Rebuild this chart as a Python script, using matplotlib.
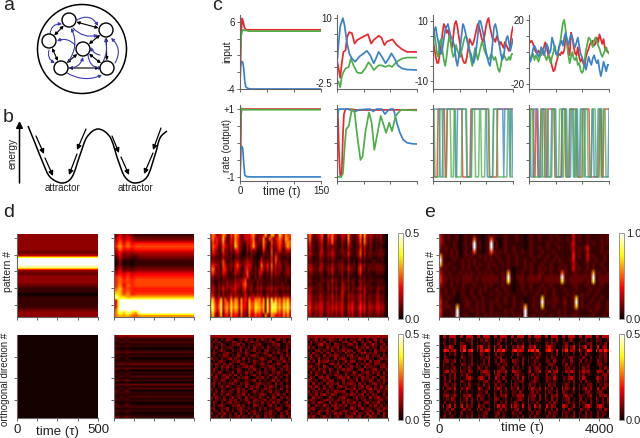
from __future__ import annotations

import matplotlib

matplotlib.use("Agg")
import matplotlib.pyplot as plt
import numpy as np
from matplotlib.patches import Circle, FancyArrowPatch, PathPatch
from matplotlib.path import Path

plt.rcParams["font.family"] = ["Liberation Sans", "DejaVu Sans"]

W, H = 640, 438
RED, GREEN, BLUE = "#e8282c", "#4dae4a", "#3a83c6"
GREY = "#666666"

# panel c, first column
c1_t = [0, 1, 2, 4, 6, 8, 10, 12, 16, 25, 150]
c1_red = [-3, 0, 4, 6.5, 6, 5.2, 4.9, 4.8, 4.8, 4.8, 4.8]
c1_green = [0, 2, 3.8, 4.6, 4.8, 4.7, 4.7, 4.7, 4.6, 4.6, 4.6]
c1_blue_t = [0, 1, 3, 5, 7, 9, 11, 14, 20, 150]
c1_blue = [-3, -0.5, 0.1, 0, -1, -3, -3.7, -3.9, -4, -4]
r1_t = [0, 1, 2, 3, 5, 150]
r1_red = [-1, -0.5, 0.8, 1, 1, 1]
r1_green = [-0.2, 0.5, 1, 1.02, 0.98, 0.98]
r1_blue_t = [0, 1, 3, 5, 7, 9, 12, 20, 150]
r1_blue = [-1, -0.2, -0.1, -0.15, -0.6, -0.95, -0.99, -1, -1]

# panel c, second column
c2_blue_t = [0, 3, 6, 11, 14, 19, 23, 28, 34, 42, 50, 56, 62, 69, 73, 78, 84, 91, 97, 102, 108, 114, 122, 131, 150]
c2_blue = [1.3, 5.1, 8.4, 10, 8.7, 5.1, 3.2, 2.2, 1.6, 2.6, 3.2, 3.7, 2.9, 1.3, 2.2, 3.5, 2.6, 1.3, 2.2, 3.2, 2.2, 0.9, 0.3, 0.1, 0]
c2_red_t = [0, 3, 6, 9, 12, 16, 19, 23, 28, 33, 38, 47, 58, 64, 69, 78, 83, 89, 94, 104, 112, 122, 131, 150]
c2_red = [1.9, 0.3, -1.5, 1.3, 3.5, 3.8, 6.4, 7.3, 7.1, 5.1, 5.8, 6.3, 6.9, 5.1, 5.8, 6.6, 6.3, 4.8, 5.5, 5.9, 4.8, 4, 3.5, 3.5]
c2_green_t = [0, 3, 6, 9, 12, 16, 22, 26, 31, 38, 46, 53, 59, 64, 69, 78, 84, 91, 97, 103, 112, 122, 131, 150]
c2_green = [-2, -2.3, -3.3, -1.3, -0.4, 0.3, 0.6, 2.2, 0.9, -0.5, -0.6, 0.3, 1.5, 0.9, 0, 0.9, 0.9, 0.6, 0.9, 0.6, 1.6, 2.2, 2.4, 2.4]
r2_blue_t = [0, 3, 6, 20, 34, 42, 62, 68, 74, 84, 90, 95, 100, 106, 112, 118, 124, 131, 140, 150]
r2_blue = [0.6, 1, 1, 1, 0.93, 0.98, 1, 0.93, 1, 1, 0.85, 0.95, 1, 1, 0.6, 0.3, 0.1, 0.01, -0.02, -0.03]
r2_red_t = [0, 2, 4, 6, 9, 11, 13, 16, 22, 38, 150]
r2_red = [1, 0.7, -0.4, -0.95, -0.9, 0.2, 0.85, 1, 1, 0.97, 0.98]
r2_green_t = [0, 3, 8, 11, 12, 14, 17, 22, 28, 33, 38, 44, 48, 53, 60, 65, 70, 76, 82, 92, 98, 103, 110, 120, 150]
r2_green = [-1, -1, -1, -0.9, -0.7, -0.2, 0.4, 0.5, 1, 0.9, 0.2, -0.5, -0.4, 0.3, 0.9, 0.6, -0.2, 0.3, 0.8, 0.3, 0.6, 0.35, 0.8, 0.98, 0.96]

# panel c, third column
c3_blue = [0, 7, 8, 5, 3, 0, -1, 1, 4, 7, 8, 9, 7, 5, 4, 3, 1, -3, -5, -2, 1, 5, 9, 8, 6, 4, 2, 0, -1, -3, -4, -2, 1, 5, 10, 10, 8, 6, 3, 0, -2, -4, -5, -2, 3, 8, 9, 7, 4, 2, -1, -3, -2, 1, 4, 5, 3, 0, 2, 4]
c3_red = [3, 1, -2, -4, -4, -1, 2, 6, 9, 8, 6, 7, 5, 3, 1, 5, 9, 10, 8, 5, 2, -1, -3, -4, -4, -2, 1, 4, 3, 2, 3, 5, 7, 9, 8, 6, 4, 3, 5, 8, 10, 11, 8, 6, 4, 4, 3, 5, 4, 2, 3, 2, 1, 3, 2, 1, 0, 2, 6, 8]
c3_green = [5, 6, 3, -1, -2, 3, 4, 0, -3, -5, -2, 2, 5, 3, 0, -2, -1, 2, 0, -1, -2, 0, 2, 4, 5, 4, 2, 0, -3, -5, -2, 1, -1, -3, -1, 1, 3, 2, 0, -1, -2, -3, -2, -1, -2, -3, -2, -4, -6, -7, -5, -2, -1, -2, -3, -3, -2, -3, -1, -1]
r3_blue = "1111111000111111111111001111111110000011111111111111100000011111111110111110110"
r3_red = "1000011111110011111111111111100000000111111111111111111000000001111111111111111"
r3_green = "11000001110000111100011000000111110000011100001100001111000011110000000000111000"

# panel c, fourth column
c4_blue = [-3, -6, -3, 2, 4, 2, -1, -3, -1, 3, 1, -2, 1, 5, 3, -1, 1, 9, 6, 2, -1, -2, 2, 5, 7, 4, 9, 12, 8, 4, 8, 11, 8, 5, 3, 6, 9, 4, -1, -3, -6, -8, -11, -7, -3, -6, -8, -4, -2, -5, -7, -5, -11, -15, -11, -6, -9, -12, -8, -8]
c4_red = [8, 6, 7, 5, 2, 0, -1, 1, -1, -2, 0, 3, 6, 3, -1, -3, -5, -9, -12, -11, -7, -4, -1, -2, 0, -1, 1, 10, 6, 2, -2, 12, 9, 3, -1, -2, 3, -3, -6, -4, -7, -9, -3, 0, 2, 5, 6, 7, 4, 5, 9, 6, 11, 8, 5, 8, 2, 1, 0, 0]
c4_green = [-1, -4, -3, -1, -5, -2, -4, -6, -3, -1, 2, 0, -3, -5, -2, -4, -7, -3, 0, 4, -1, -3, 3, 6, 12, 18, 20, 14, 5, -2, -7, -3, 0, -4, -5, -3, -8, -7, -11, -13, -12, -5, 1, 5, 9, 8, 6, 3, 7, 9, 7, 4, 2, -1, -3, -1, 1, 3, 0, -1]
r4_blue = "1100011111000011110000011111000000111110000111001100111110000000110000111100000001"
r4_red = "111110011000111100011111110000000111100001111111000000111111100000000001100111111"
r4_green = "0011100000001100011100001110000111001100011110011000011001110000111100011001110000"

# panel d, colour steps as hex digits (0 = 0, f = top of the colour bar)
d1_pattern = list("33333324fffd3233321101111233")
d2_pattern_left = [
    "252421", "363532", "474643", "585856", "696867", "485656", "363434",
    "252322", "141211", "030101", "030101", "141212", "252323", "464645",
    "675756", "686767", "686767", "695867", "7a6766", "9a6866", "ba7967",
    "ebb9aa", "5fffff", "5fffff", "5fffff", "7fffff", "8daeb9", "8a9a87",
]
d2_pattern_late = "123676432112356777667afffff95"
d3_pattern = [
    "6a8355a93285b96236558a63345c52ca36f95a88",
    "5a6744c62274a8523564793244a4297257a74b97",
    "385734a52364b85322546a5233a52183479639a9",
    "297623864253c94311437b6222941272368528b8",
    "1854128332425742104253411173118134731465",
    "2643216331313431012132200132208153322332",
    "1322124222202321123231100421217184211121",
    "3433228411314532235432112632417183412321",
    "5754318622425853246541203943729262521332",
    "7a52417732315641157431314742618252421343",
    "5843226531215432248322215521316143312343",
    "3422313321113221347311313311214132211222",
    "2311212232224334581322132221213122121211",
    "2411323242335443794231132311223122132121",
    "3531426343446431672341243422435243233232",
    "3521314222335321451232132311324132122121",
    "5722514233624432362344354422533344224443",
    "9d646c3954b5a93a574a66a9a6a2c4f6c7a5b8c6",
    "be858e48a6d8ba4a664c88cba8b3e5fcf9b7dae8",
    "cf969f59b7e9cb5b664c98dcb9b3e6fdfac8ebf9",
    "ae847e38a5d7a93a543b77caa7a2d5ecd8a6c9d7",
    "7c525b2673a5762833295586752a43a96574a6a5",
]
d4_pattern = [
    "7a5234692196a6423653a42236b4c53632425110",
    "5a3223581175a5312542a4212593a42521324110",
    "3822124611549421242184112482a42411213210",
    "1722123511423321131163112271621411212100",
    "2522114612325321242252212382512311223210",
    "3632215522436421233272212491613322233310",
    "2421114321324311122241111352312211122200",
    "1321213311213212231131120231211122111200",
    "3532214522325223342152230472412322333210",
    "2643225412436322342263320582313232333310",
    "1432213311325212241142210471212111222200",
    "1321112211213121131131110231211211111100",
    "2421212322325232142241320342312221222200",
    "1321123211414131153131320242322211131210",
    "3532223311424242254241322452522322242310",
    "2521223221314131263132321341612211331210",
    "4632325322426242362153432462513322442310",
    "4632324422425242352143432452513322442310",
    "5733436523535353462154632473614432553411",
    "6834546623546464563165733584715543664511",
    "5733435523535353462154632473614432553411",
    "4523325412424242352143522361413322332310",
]
d1_ortho = ["0", "0"]
d2_ortho_late = "63131201312012413021312041302131201312012"
d2_ortho_early = "52321312421312314213124132143213214213215"
d3_ortho = [
    "444444444444444444444444444444",
    "213021432013241203142130241302",
    "142301213413021423102134210314",
    "302142013241302123410213240132",
    "214031232014213042130421320142",
    "031242103124031241203412031240",
    "242013421032142013214203142031",
    "130214302142031342012341203142",
    "412031241320413021342013214203",
    "021342013241203142031240132412",
    "314203142013420131241302142031",
    "203142413021342420132143021342",
    "142031302142013241203124203142",
    "231420124032141302413203142013",
    "403124231403120241302142031241",
    "124023412031342013241302412031",
    "032143021420131240312024130241",
    "241302134203142013421320413021",
    "130241420132041324103142302142",
    "402132013241302413024130214031",
    "213042132041320142031241320142",
    "042131420132413021342013241302",
    "314203024132041321420314203142",
    "203124132403142043124032142013",
    "142031241320124132041324130241",
    "031342013241302043120241302134",
    "240132402134213120413021342013",
    "132041313024130241302142031241",
    "401324120314203142013241203142",
    "213042031241320314204132014203",
]
d4_ortho = [
    "444444444444444444444444444444",
    "312403124320413032142031241302",
    "041322403120134214203124031420",
    "230145132043120341302412530241",
    "413022041324032102413241320413",
    "120341320413241430241302041342",
    "304213042031204213024513240130",
    "241320413243120341302041323042",
    "032141230140342032143241202413",
    "413052341213024143021304134102",
    "120341203424130320413142043241",
    "342130420131402241320423120342",
    "213042314203241430134021341203",
    "041321403124013214203241423041",
    "320412032142304123142032104132",
    "142034241013432402314231420341",
    "431201324302140231403124203142",
    "204132041324031342041302341230",
    "341420314203423123024142031403",
    "123041420312104324132035142314",
    "402312031243241031402413204132",
    "231403421430123243124031421041",
    "014232014201342102413204134213",
    "342101342314230421302412013402",
    "123143204132041324130341324120",
    "401321420341324032141203141302",
    "234102132043120143024132023143",
    "412043241320234213401324104321",
    "031241032142413124032142413042",
    "324102413024103341240314230141",
]

# panel e, background of the pattern panel plus the bright activations
e_pattern = [
    "421211201211211012121112111211012112111212111115121121111212",
    "521211201211111012121012111211012112111211211214121121111212",
    "421112101212112012112012111111012111112112111125111121211212",
    "312112101211212012112012112111012112112111211124121251111211",
    "212121201211111012121212112112112111211121111115121141111212",
    "321121201212112121212111211211112112112112111116121151211121",
    "721112112121211121211211211211211211121121211125111141121121",
    "821211112121212112121121211211212111211211121114211121211211",
    "312112112121121112112111210111212112121211212115121121211121",
    "421211121212112121211121210112112112211211122112211212112112",
    "622121212222121222222122220222122223122222242122222222212222",
    "622121212222121222222122220122122222122222232122222122212222",
    "321121112111211121211121210112112111211211121112211121211211",
    "212112112112112121112112110112112112121121112111211112112111",
    "312112012112112111211211211111211121121121111212112121121111",
    "411211011211211211112112112111011211211122112112112111211211",
    "612111011221121211212112112112011212112122113112212112112112",
    "512211011221121211211211112112011211211121112112112121122112",
    "611121011112121211211112121112011121121111212111211112121112",
    "511112011211121121212112112121011211211211212112211111211121",
]
e_spot_col = [12, 18, 0, 24, 43, 54, 36, 48, 6, 30]
e_spot_row = [1, 1, 5, 9, 9, 9, 15, 15, 17, 17]
e_spot_steps = ["7ff7", "7ff7", "9fa", "9fc", "7fb", "9fc", "afa", "afa", "9ff", "9ff"]

e_ortho = [
    "6660666666066666606666660666666066666606666660666666066666606666660666",
    "2130214320132412031421302413021302143201324120314213024130213021432013",
    "1420214134201423012134204102340021341302102341421302410234102341302140",
    "3021420132400213240132411302402132401324012134210321302403124032140230",
    "4254034532504563042543504352404534305452503245304532503345202543504253",
    "2130314203102340142031041320213042130013241021304130210341304213013240",
    "3142002314201341021340213402130021342031420130421002134203142031203140",
    "1234024130201342013042130432104320413013204132041323104132403124042130",
    "3421030214302413023142013124301320412023142013420231403124021302034210",
    "0312034130214103420314102341204130202413420130314201341302141304103142",
    "3245043543204352035432504325305432043502354325045320435304253403254305",
    "1320314203142031021340314203120341203140203140231420031204130213021342",
    "4130213420134201342031042031402130412013204132041302134203142001342031",
    "0231403124203140213420314203140213420134203142031402130421304213042130",
    "2143024130214103204130241320241320302413021304130231420314020341302143",
    "1302314203142031420130314203032140213042130421302041320413024132041320",
    "4132013240130241320401320413013204130241320413204134201342013420134201",
    "2345035420435204532034520435403254503245043520435304523045320354204352",
    "0213042130241304132021342013420134204132041320413021340213402130421304",
    "3140213042130421302431420314031420314021304213042130241304132041320413",
    "1302403124031240312013204132041320413204132041320134201342013420134201",
    "4213041302413024130241302413021340213402130421304213042130421304213042",
    "2031402134021340213402134021304213042130421304132041320413204132041320",
    "1340230142031420314203142031402130421304213042130241302413024130241302",
]
e_ortho_dark = "00011111111111"
e_ortho_row_gain = [0.7, 0.7, 0.7, 1.2, 1.2, 0.7, 0.7, 0.8, 0.7, 0.7, 0.8, 0.8, 1.0, 0.7, 0.7, 1.0, 0.7, 0.7, 0.8, 0.7, 1.2, 0.8, 0.7, 0.7]

# panel a: node centres, panel b: energy curve (schematics, image pixels)
net_nodes = [(69, 20), (106, 30), (83, 49), (49, 41), (61, 68), (107, 68)]
net_links = [(0, 1), (0, 3), (3, 4), (4, 5), (1, 5), (1, 2), (2, 4), (2, 5)]
net_blue = [
    (50, 35, 62, 24, -0.5), (49, 50, 55, 63, 0.4), (68, 62, 71, 28, 0.3),
    (77, 20, 98, 26, -0.5), (73, 28, 98, 35, 0.3), (75, 45, 57, 41, 0.35),
    (68, 68, 83, 57, 0.4), (88, 55, 102, 68, 0.45), (100, 55, 91, 47, -0.3),
    (115, 63, 111, 38, 0.4), (103, 62, 105, 38, 0.2), (67, 73, 102, 75, 0.25),
]
energy_x = [28, 35, 43, 50, 62, 72, 80, 87, 98, 110, 118, 125, 135, 147, 155, 160, 167]
energy_y = [126, 143, 163, 177, 183, 177, 155, 137, 129, 137, 160, 177, 183, 177, 155, 138, 131]
energy_arrows = [
    (36, 136, 44, 154), (45, 158, 53, 176), (86, 129, 77, 150), (77, 154, 69, 175),
    (112, 136, 119, 153), (121, 157, 129, 175), (161, 128, 153, 150), (153, 153, 144, 174),
]


def px_axes(fig, x0, y0, x1, y1):
    return fig.add_axes([x0 / W, 1 - y1 / H, (x1 - x0) / W, (y1 - y0) / H])


def style_axes(ax):
    ax.spines["top"].set_visible(False)
    ax.spines["right"].set_visible(False)
    for side in ("left", "bottom"):
        ax.spines[side].set_color(GREY)
        ax.spines[side].set_linewidth(0.8)
    ax.tick_params(length=2, width=0.7, color=GREY, pad=1.5, labelsize=7, labelcolor="#222222")


def grid(rows):
    n = max(len(r) for r in rows)
    return np.array([[int(c, 16) / 15 for c in r.ljust(n, r[-1])] for r in rows])


def line_panel(ax, series, ylim, yticks, ylabels, xlabels=False):
    for t, y, color in series:
        ax.plot(t, y, color=color, lw=1.25)
    ax.set_xlim(0, 150)
    ax.set_ylim(*ylim)
    ax.set_xticks([0, 50, 100, 150])
    ax.set_xticklabels(["0", "", "", "150"] if xlabels else [])
    ax.set_yticks(yticks)
    ax.set_yticklabels(ylabels)
    style_axes(ax)


def heat_panel(ax, data, vmax, xmax, xticks, yticks, interp="bilinear"):
    im = ax.imshow(data * vmax, cmap="hot", vmin=0, vmax=vmax, aspect="auto", interpolation=interp,
                   extent=[0, xmax, 1, 0])
    ax.set_xticks(xticks)
    ax.set_xticklabels([])
    ax.set_yticks(yticks)
    ax.set_yticklabels([])
    style_axes(ax)
    return im


def colorbar(fig, im, x0, y0, x1, y1, top):
    cax = px_axes(fig, x0, y0, x1, y1)
    cb = fig.colorbar(im, cax=cax)
    cb.set_ticks([0, top], labels=[f"{0:.1f}", f"{top:.1f}"])
    cb.ax.tick_params(length=0, pad=1.5, labelsize=8, labelcolor="#222222")
    cb.outline.set_edgecolor("#999999")
    cb.outline.set_linewidth(0.7)


def smooth_path(xs, ys):
    pts = np.column_stack([xs, ys]).astype(float)
    verts = [pts[0]]
    codes = [Path.MOVETO]
    for i in range(len(pts) - 1):
        p0 = pts[max(i - 1, 0)]
        p1, p2 = pts[i], pts[i + 1]
        p3 = pts[min(i + 2, len(pts) - 1)]
        verts += [p1 + (p2 - p0) / 6, p2 - (p3 - p1) / 6, p2]
        codes += [Path.CURVE4] * 3
    return Path(verts, codes)


fig = plt.figure(figsize=(W / 100, H / 100), dpi=100)

# overlay in image pixels for the schematics and free text
ov = fig.add_axes([0, 0, 1, 1], zorder=5)
ov.set_xlim(0, W)
ov.set_ylim(H, 0)
ov.axis("off")
ov.patch.set_alpha(0)

ov.add_patch(Circle((82, 49), 44.5, fc="none", ec="black", lw=1.1))
for a, b in net_links:
    ov.add_patch(FancyArrowPatch(net_nodes[a], net_nodes[b], arrowstyle="<|-|>", mutation_scale=4.5,
                                 lw=0.8, color="black", shrinkA=5.5, shrinkB=5.5))
for x0, y0, x1, y1, rad in net_blue:
    ov.add_patch(FancyArrowPatch((x0, y0), (x1, y1), arrowstyle="-|>", mutation_scale=4.5, lw=0.8,
                                 color="#3b3bb5", connectionstyle=f"arc3,rad={rad}", shrinkA=0, shrinkB=0))
for cx, cy in net_nodes:
    ov.add_patch(Circle((cx, cy), 7, fc="white", ec="black", lw=1.0, zorder=4))

ov.add_patch(FancyArrowPatch((19.5, 183), (19.5, 121), arrowstyle="-|>", mutation_scale=10, lw=1.1,
                             color="black", shrinkA=0, shrinkB=0))
ov.add_patch(PathPatch(smooth_path(energy_x, energy_y), fc="none", ec="black", lw=1.1))
for x0, y0, x1, y1 in energy_arrows:
    ov.add_patch(FancyArrowPatch((x0, y0), (x1, y1), arrowstyle="-|>", mutation_scale=7, lw=0.9,
                                 color="black", shrinkA=0, shrinkB=0))

for x, y, s in [(3, 10, "a"), (3, 122, "b"), (212, 10, "c"), (3, 217, "d"), (424, 217, "e")]:
    ov.text(x, y, s, fontsize=14, ha="left", va="baseline", color="#222222")
for x, y, s, size, rot in [
    (62.5, 188, "attractor", 7, 0), (135, 188, "attractor", 7, 0), (12.5, 153, "energy", 7.3, 90),
    (227, 52, "input", 7.5, 90), (227, 145, "rate (output)", 7, 90), (282, 192, "time (τ)", 8.3, 0),
    (8, 272, "pattern #", 7.5, 90), (5, 379, "orthogonal direction #", 7, 90),
    (57, 432, "time (τ)", 9.5, 0), (431, 272, "pattern #", 7.5, 90), (428, 379, "orthogonal direction #", 7, 90),
    (522, 428, "time (τ)", 9.5, 0),
]:
    ov.text(x, y, s, fontsize=size, rotation=rot, ha="center", va="center", color="#222222")

# panel c
cols = [(240, 321), (337, 417), (433, 513), (529, 609)]
t60 = np.linspace(0, 150, 60)

ax = px_axes(fig, cols[0][0], 15, cols[0][1], 89)
line_panel(ax, [(c1_blue_t, c1_blue, BLUE), (c1_t, c1_red, RED), (c1_t, c1_green, GREEN)],
           (-4, 7), [-4, -1.5, 1, 3.5, 6], ["-4", "", "", "", "6"])
ax = px_axes(fig, cols[1][0], 15, cols[1][1], 89)
line_panel(ax, [(c2_red_t, c2_red, RED), (c2_green_t, c2_green, GREEN), (c2_blue_t, c2_blue, BLUE)],
           (-3.65, 10.6), [-2.5, 0.6, 3.75, 6.9, 10], ["-2.5", "", "", "", "10"])
ax = px_axes(fig, cols[2][0], 15, cols[2][1], 89)
line_panel(ax, [(t60, c3_red, RED), (t60, c3_green, GREEN), (t60, c3_blue, BLUE)],
           (-12.7, 12), [-10, -5, 0, 5, 10], ["-10", "", "", "", "10"])
ax = px_axes(fig, cols[3][0], 15, cols[3][1], 89)
line_panel(ax, [(t60, c4_red, RED), (t60, c4_green, GREEN), (t60, c4_blue, BLUE)],
           (-23, 23), [-20, -10, 0, 10, 20], ["-20", "", "", "", "20"])

rate_ticks = [-1, -0.5, 0, 0.5, 1]
ax = px_axes(fig, cols[0][0], 105, cols[0][1], 181)
line_panel(ax, [(r1_t, r1_red, RED), (r1_t, r1_green, GREEN), (r1_blue_t, r1_blue, BLUE)],
           (-1.12, 1.12), rate_ticks, ["-1", "", "", "", "+1"], xlabels=True)
ax = px_axes(fig, cols[1][0], 105, cols[1][1], 181)
line_panel(ax, [(r2_red_t, r2_red, RED), (r2_blue_t, r2_blue, BLUE), (r2_green_t, r2_green, GREEN)],
           (-1.12, 1.12), rate_ticks, ["", "", "", "", ""])
for col, (red, blue, green) in zip(cols[2:], [(r3_red, r3_blue, r3_green), (r4_red, r4_blue, r4_green)]):
    ax = px_axes(fig, col[0], 105, col[1], 181)
    for s, color in [(red, RED), (blue, BLUE), (green, GREEN)]:
        y = [1 if c == "1" else -1 for c in s]
        ax.plot(np.linspace(0, 150, len(y)), y, color=color, lw=1.1, alpha=0.75)
    ax.set_xlim(0, 150)
    ax.set_ylim(-1.12, 1.12)
    ax.set_xticks([0, 50, 100, 150])
    ax.set_xticklabels([])
    ax.set_yticks(rate_ticks)
    ax.set_yticklabels([])
    style_axes(ax)

# panel d
d_cols = [(17, 98), (114, 194), (210, 291), (307, 388)]
top_y = (234, 317)
bot_y = (335, 418)
top_ticks = [0.05, 0.25, 0.45, 0.65, 0.85]
bot_ticks = [0.26, 0.52, 0.78]
x_ticks = [0, 125, 250, 375, 500]
d2_pattern = [left + late * 14 for left, late in zip(d2_pattern_left, d2_pattern_late)]
d2_ortho = [e + l + e + l * 13 for e, l in zip(d2_ortho_early, d2_ortho_late)]

top_data = [grid(d1_pattern), grid(d2_pattern), grid(d3_pattern) * 0.85, grid(d4_pattern) * 0.8]
bot_data = [grid(d1_ortho) + 0.016, grid(d2_ortho) * 0.55, grid(d3_ortho) * 0.75, grid(d4_ortho) * 0.8]
for col, data in zip(d_cols, top_data):
    im_top = heat_panel(px_axes(fig, col[0], top_y[0], col[1], top_y[1]), data, 0.5, 500, x_ticks, top_ticks)
for i, (col, data) in enumerate(zip(d_cols, bot_data)):
    ax = px_axes(fig, col[0], bot_y[0], col[1], bot_y[1])
    im_bot = heat_panel(ax, data, 0.5, 500, x_ticks, bot_ticks, interp="nearest" if i > 1 else "bilinear")
    if i == 0:
        ax.set_xticks(x_ticks, ["0", "", "", "", "500"])
        ax.tick_params(labelsize=9.5, pad=2)
colorbar(fig, im_top, 398, 233, 403, 319, 0.5)
colorbar(fig, im_bot, 398, 334, 403, 420, 0.5)

# panel e
e_ticks = [0, 500, 1000, 1500, 2000, 2500, 3000, 3500, 4000]
e_top = grid(e_pattern)
for col, row, steps in zip(e_spot_col, e_spot_row, e_spot_steps):
    for k, step in enumerate(steps):
        e_top[row + k, col] = int(step, 16) / 15
im = heat_panel(px_axes(fig, 439, top_y[0], 609, top_y[1]), e_top, 1.0, 4250, e_ticks, top_ticks)
colorbar(fig, im, 619, 233, 624, 319, 1.0)

e_bot = np.repeat(grid(e_ortho), 2, axis=1)
e_mask = np.array([int(c) for c in e_ortho_dark * 10])
e_bot = e_bot * e_mask[: e_bot.shape[1]] * np.array(e_ortho_row_gain)[:, None]
ax = px_axes(fig, 439, bot_y[0], 609, bot_y[1])
im = heat_panel(ax, e_bot, 0.5, 4250, e_ticks, [0.125, 0.26, 0.39, 0.52, 0.65, 0.78, 0.91], interp="nearest")
ax.set_xticks(e_ticks, ["0", "", "", "", "", "", "", "", "4000"])
ax.tick_params(labelsize=9.5, pad=2)
colorbar(fig, im, 619, 334, 624, 420, 0.5)

fig.savefig("out.png", dpi=100)
